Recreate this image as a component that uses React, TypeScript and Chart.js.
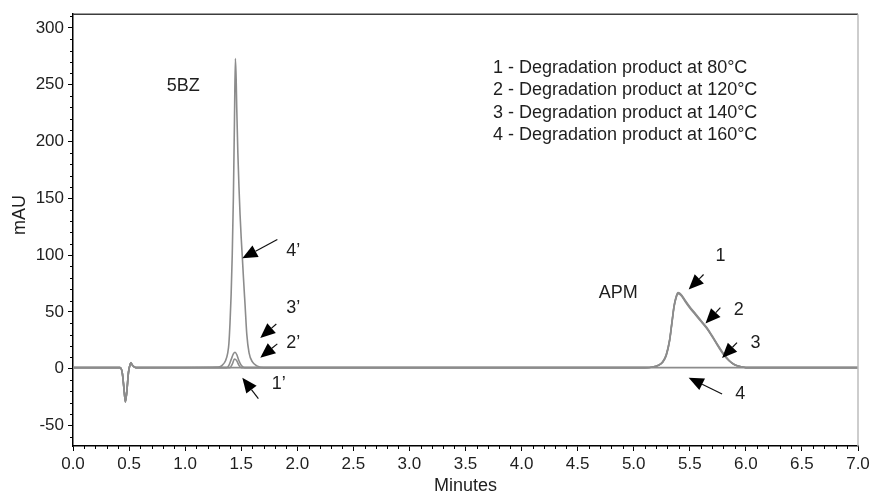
import React, { useEffect, useRef } from "react";
import { Chart, registerables } from "chart.js";

Chart.register(...registerables);

// ---- Data (minutes, mAU) ----
const T1 = [0, 0.42, 0.44, 0.455, 0.467, 0.48, 0.495, 0.51, 0.517, 0.53, 0.56, 5.1, 5.17, 5.22, 5.26, 5.29, 5.32, 5.34, 5.36, 5.38, 5.395, 5.41, 5.43, 5.46, 5.5, 5.55, 5.6, 5.65, 5.7, 5.75, 5.8, 5.85, 5.9, 5.95, 6.0, 7.0];
const V1 = [1, 1, -4, -18, -29.5, -20, -3, 4, 5.5, 3, 1, 1, 1.5, 3, 6.5, 12.5, 25.5, 40.5, 55.5, 64, 67, 66.5, 64.5, 60, 54.5, 48.5, 42.5, 36.5, 29, 21, 13.5, 7.5, 3.5, 2, 1, 1];

const T2 = [0, 0.42, 0.44, 0.455, 0.467, 0.48, 0.495, 0.51, 0.517, 0.53, 0.56, 1.4, 1.42, 1.44, 1.46, 1.48, 1.5, 5.1, 5.17, 5.22, 5.26, 5.29, 5.32, 5.34, 5.36, 5.38, 5.395, 5.41, 5.43, 5.46, 5.5, 5.55, 5.6, 5.65, 5.7, 5.75, 5.8, 5.85, 5.9, 5.95, 6.0, 7.0];
const V2 = [1, 1, -4, -18, -29, -20, -3, 4, 5, 3, 1, 1, 4, 8.5, 7, 3, 1, 1, 1.5, 3, 6, 12, 25, 40, 55, 63.5, 66.5, 66, 64, 59.5, 54, 48, 42, 36, 28.5, 20.5, 13, 7, 3.5, 2, 1, 1];

const T3 = [0, 0.42, 0.44, 0.455, 0.467, 0.48, 0.495, 0.51, 0.517, 0.53, 0.56, 1.37, 1.39, 1.41, 1.43, 1.445, 1.46, 1.48, 1.5, 1.53, 5.1, 5.17, 5.22, 5.26, 5.29, 5.32, 5.34, 5.36, 5.38, 5.395, 5.41, 5.43, 5.46, 5.5, 5.55, 5.6, 5.65, 5.7, 5.75, 5.8, 5.85, 5.9, 5.95, 6.0, 7.0];
const V3 = [1, 1, -4, -18, -28.5, -20, -3, 4, 5, 3, 1, 1, 3, 8, 13, 14.5, 12.5, 7, 3, 1, 1, 1.5, 3, 6, 11.5, 24.5, 39.5, 54.5, 63, 66, 65.5, 63.5, 59, 53.5, 47.5, 41.5, 35.5, 28, 20, 12.5, 7, 3.5, 2, 1, 1];

const T4 = [0, 0.42, 0.44, 0.455, 0.467, 0.48, 0.495, 0.51, 0.517, 0.53, 0.56, 1.3, 1.33, 1.36, 1.38, 1.39, 1.4, 1.41, 1.42, 1.43, 1.44, 1.448, 1.455, 1.46, 1.47, 1.48, 1.49, 1.5, 1.51, 1.52, 1.535, 1.55, 1.57, 1.6, 1.64, 1.7, 7.0];
const V4 = [1, 1, -4, -18, -29, -20, -3, 4, 5, 3, 1, 1.5, 3, 7, 14, 22, 40, 65, 100, 150, 220, 273, 255, 230, 190, 160, 135, 115, 98, 80, 55, 30, 14, 6, 2.5, 1, 1];

const SERIES_LABELS = ["80°C", "120°C", "140°C", "160°C"];

const LEGEND_LINES = [
  "1 - Degradation product at 80°C",
  "2 - Degradation product at 120°C",
  "3 - Degradation product at 140°C",
  "4 - Degradation product at 160°C",
];

const X_TICKS = [0, 0.5, 1, 1.5, 2, 2.5, 3, 3.5, 4, 4.5, 5, 5.5, 6, 6.5, 7];
const Y_TICKS = [-50, 0, 50, 100, 150, 200, 250, 300];

// Annotation texts anchored in data units (minutes, mAU)
const LABEL_TEXT = ["5BZ", "4’", "3’", "2’", "1’", "APM", "1", "2", "3", "4"];
const LABEL_T = [0.984, 1.965, 1.965, 1.965, 1.835, 4.863, 5.773, 5.936, 6.085, 5.951];
const LABEL_V = [249, 103.3, 53.4, 22.8, -13.6, 66.8, 98.9, 51.4, 23.0, -22.2];

// Arrows: tail (t0, v0) -> tip (t1, v1)
const ARROW_T0 = [1.822, 1.813, 1.822, 1.653, 5.623, 5.773, 5.921, 5.788];
const ARROW_V0 = [113.8, 39.4, 21.9, -26.3, 82.9, 53.7, 23.0, -22.2];
const ARROW_T1 = [1.51, 1.67, 1.67, 1.51, 5.49, 5.64, 5.788, 5.49];
const ARROW_V1 = [97.2, 27.1, 9.6, -7.9, 69.8, 39.7, 9.4, -7.9];

const FONT = '"Liberation Sans", Arial, Helvetica, sans-serif';
const TEXT = "#1e1e1e";
const LINE = "#8c8c8c";

const pts = (ts: number[], vs: number[]) =>
  ts.map((t, i) => ({ x: t, y: vs[i] }));

function drawArrow(ctx: CanvasRenderingContext2D, x0: number, y0: number, x1: number, y1: number) {
  const ang = Math.atan2(y1 - y0, x1 - x0);
  const L = 15;
  const W = 6.5;
  const bx = x1 - L * Math.cos(ang);
  const by = y1 - L * Math.sin(ang);
  ctx.beginPath();
  ctx.moveTo(x0, y0);
  ctx.lineTo(bx, by);
  ctx.stroke();
  ctx.beginPath();
  ctx.moveTo(x1, y1);
  ctx.lineTo(bx + W * Math.sin(ang), by - W * Math.cos(ang));
  ctx.lineTo(bx - W * Math.sin(ang), by + W * Math.cos(ang));
  ctx.closePath();
  ctx.fill();
}

const overlay = {
  id: "overlay",
  afterDraw(chart: any) {
    const { ctx, chartArea: a } = chart;
    const x = chart.scales.x;
    const y = chart.scales.y;
    ctx.save();

    // frame top / right
    ctx.lineWidth = 1.5;
    ctx.strokeStyle = "#3c3c3c";
    ctx.beginPath();
    ctx.moveTo(a.left, a.top);
    ctx.lineTo(a.right, a.top);
    ctx.stroke();
    ctx.strokeStyle = "#bdbdbd";
    ctx.beginPath();
    ctx.moveTo(a.right, a.top);
    ctx.lineTo(a.right, a.bottom);
    ctx.stroke();

    // minor ticks
    ctx.strokeStyle = "#000";
    ctx.lineWidth = 1;
    for (let i = 0; i <= 70; i++) {
      if (i % 5 === 0) continue;
      const px = Math.round(x.getPixelForValue(i / 10)) + 0.5;
      ctx.beginPath();
      ctx.moveTo(px, a.bottom);
      ctx.lineTo(px, a.bottom + 3);
      ctx.stroke();
    }
    for (let v = -60; v <= 310; v += 10) {
      if (v % 50 === 0) continue;
      const py = Math.round(y.getPixelForValue(v)) + 0.5;
      ctx.beginPath();
      ctx.moveTo(a.left, py);
      ctx.lineTo(a.left - 3, py);
      ctx.stroke();
    }

    // axis titles
    ctx.fillStyle = TEXT;
    ctx.font = `18px ${FONT}`;
    ctx.textAlign = "center";
    ctx.textBaseline = "middle";
    ctx.fillText("Minutes", (a.left + a.right) / 2, 486);
    ctx.save();
    ctx.translate(20, 215);
    ctx.rotate(-Math.PI / 2);
    ctx.fillText("mAU", 0, 0);
    ctx.restore();

    // legend text block
    ctx.textAlign = "left";
    const lx = 493;
    const ly = [68, 90.5, 113, 135];
    LEGEND_LINES.forEach((s, i) => ctx.fillText(s, lx, ly[i]));

    // labels
    ctx.textAlign = "center";
    LABEL_TEXT.forEach((s, i) => {
      ctx.fillText(s, x.getPixelForValue(LABEL_T[i]), y.getPixelForValue(LABEL_V[i]));
    });

    // arrows
    ctx.strokeStyle = "#111";
    ctx.fillStyle = "#000";
    ctx.lineWidth = 1.2;
    ARROW_T0.forEach((_, i) => {
      drawArrow(
        ctx,
        x.getPixelForValue(ARROW_T0[i]),
        y.getPixelForValue(ARROW_V0[i]),
        x.getPixelForValue(ARROW_T1[i]),
        y.getPixelForValue(ARROW_V1[i])
      );
    });
    ctx.restore();
  },
};

export default function App() {
  const ref = useRef<HTMLCanvasElement | null>(null);
  useEffect(() => {
    if (!ref.current) return;
    const series = [pts(T1, V1), pts(T2, V2), pts(T3, V3), pts(T4, V4)];
    const chart = new Chart(ref.current, {
      type: "line",
      data: {
        datasets: series.map((d, i) => ({
          label: SERIES_LABELS[i],
          data: d,
          borderColor: LINE,
          borderWidth: 1.6,
          pointRadius: 0,
          cubicInterpolationMode: "monotone",
          fill: false,
        })),
      },
      options: {
        animation: false,
        responsive: false,
        events: [],
        layout: { padding: { top: 12, right: 18, left: 0, bottom: 0 } },
        plugins: { legend: { display: false }, tooltip: { enabled: false } },
        scales: {
          x: {
            type: "linear",
            min: 0,
            max: 7,
            afterBuildTicks: (s: any) => {
              s.ticks = X_TICKS.map((v) => ({ value: v }));
            },
            afterFit: (s: any) => {
              s.height = 50;
            },
            grid: { drawOnChartArea: false, tickLength: 5, color: "#000", lineWidth: 1 },
            border: { color: "#000", width: 1.5 },
            ticks: {
              font: { family: FONT, size: 17 },
              color: TEXT,
              padding: 3,
              maxRotation: 0,
              autoSkip: false,
              callback: (v: any) => Number(v).toFixed(1),
            },
          },
          y: {
            type: "linear",
            min: -68,
            max: 312,
            afterBuildTicks: (s: any) => {
              s.ticks = Y_TICKS.map((v) => ({ value: v }));
            },
            afterFit: (s: any) => {
              s.width = 73;
            },
            grid: { drawOnChartArea: false, tickLength: 5, color: "#000", lineWidth: 1 },
            border: { color: "#000", width: 1.5 },
            ticks: {
              font: { family: FONT, size: 17 },
              color: TEXT,
              padding: 4,
              autoSkip: false,
              callback: (v: any) => String(v),
            },
          },
        },
      },
      plugins: [overlay],
    });
    return () => chart.destroy();
  }, []);

  return (
    <div style={{ position: "absolute", left: 0, top: 0, width: 876, height: 496 }}>
      <canvas ref={ref} width={876} height={496} style={{ display: "block", width: 876, height: 496 }} />
    </div>
  );
}
